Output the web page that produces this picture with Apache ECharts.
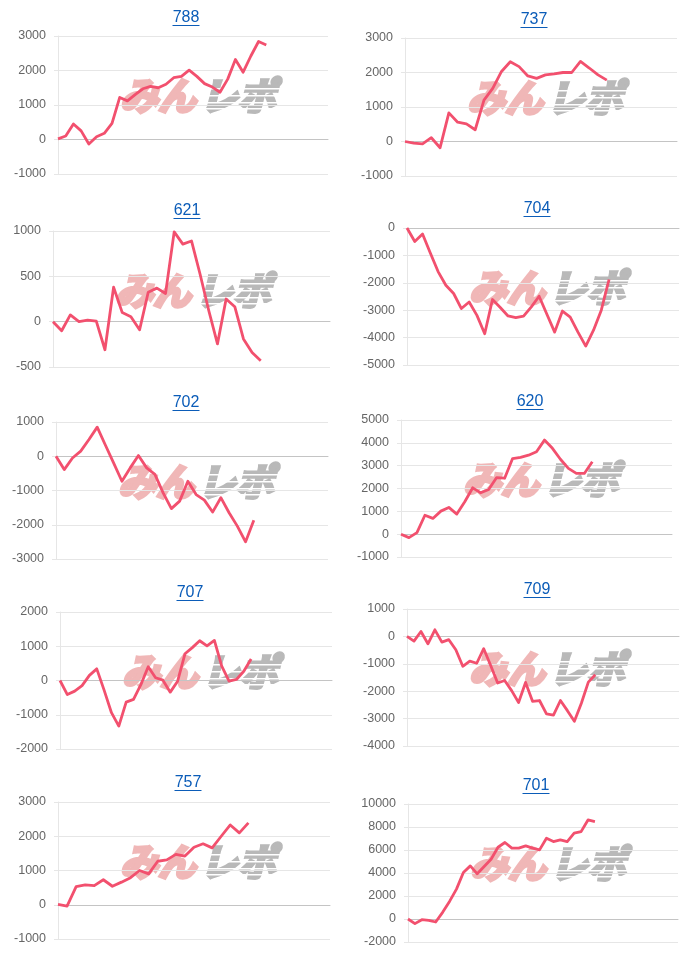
<!DOCTYPE html>
<html><head><meta charset="utf-8">
<script src="https://cdn.jsdelivr.net/npm/echarts@6/dist/echarts.min.js"></script>
<style>html,body{margin:0;padding:0;background:#fff}#c{width:700px;height:956px}</style>
</head><body><div id="c"></div>
<script>
// ---- data ----
const titles = ['788','737','621','704','702','620','707','709','757','701'];
const catCounts = [36, 32, 33, 36, 34, 35, 38, 40, 31, 40];
const d788 = [20, 100, 450, 250, -130, 80, 180, 470, 1220, 1120, 1300, 1470, 1540, 1500, 1600, 1790, 1830, 2010, 1830, 1620, 1520, 1370, 1750, 2320, 1950, 2420, 2840, 2740];
const d737 = [0, -50, -70, 110, -180, 830, 560, 510, 340, 1200, 1540, 2030, 2310, 2170, 1900, 1830, 1930, 1960, 2000, 2000, 2320, 2130, 1930, 1780];
const d621 = [0, -100, 75, 0, 18, 5, -310, 380, 100, 55, -90, 325, 370, 310, 990, 855, 890, 520, 120, -245, 250, 165, -190, -340, -430];
const d704 = [0, -490, -220, -910, -1590, -2090, -2390, -2940, -2700, -3190, -3860, -2610, -2900, -3210, -3270, -3220, -2880, -2490, -3150, -3800, -3030, -3250, -3800, -4310, -3730, -3000, -1880];
const d702 = [0, -390, -50, 150, 490, 850, 320, -200, -730, -340, 20, -340, -530, -1070, -1530, -1310, -730, -1120, -1280, -1630, -1210, -1650, -2040, -2500, -1870];
const d620 = [0, -150, 70, 830, 690, 1010, 1170, 880, 1420, 2030, 1810, 1960, 2480, 2450, 3310, 3360, 3460, 3610, 4120, 3760, 3280, 2880, 2660, 2660, 3170];
const d707 = [0, -410, -310, -150, 150, 340, -280, -940, -1330, -630, -550, -120, 400, 80, 10, -340, -20, 780, 960, 1160, 1010, 1170, 420, -20, 30, 270, 630];
const d709 = [0, -170, 180, -270, 240, -210, -120, -490, -1090, -900, -980, -450, -1060, -1700, -1610, -1980, -2410, -1680, -2370, -2340, -2830, -2870, -2340, -2710, -3100, -2440, -1670, -1400];
const d757 = [10, -40, 530, 580, 560, 730, 540, 660, 790, 1000, 900, 1270, 1310, 1470, 1420, 1680, 1780, 1660, 2000, 2330, 2100, 2390];
const d701 = [0, -400, -60, -120, -260, 580, 1530, 2600, 4050, 4620, 3930, 4570, 5200, 6240, 6650, 6160, 6160, 6360, 6160, 6010, 7020, 6730, 6880, 6730, 7460, 7600, 8610, 8470];
const seriesData = [d788, d737, d621, d704, d702, d620, d707, d709, d757, d701];
const yMin  = [-1000, -1000, -500, -5000, -3000, -1000, -2000, -4000, -1000, -2000];
const yMax  = [3000, 3000, 1000, 0, 1000, 5000, 2000, 1000, 3000, 10000];
const yStep = [1000, 1000, 500, 1000, 1000, 1000, 1000, 1000, 1000, 2000];

// ---- layout (pixels) ----
const plotL = [58, 405, 53, 407, 56, 401, 60, 407, 58, 408];
const plotR = [328, 677, 330, 679, 328, 672, 332, 679, 330, 678];
const plotT = [36, 38, 231, 228, 422, 420, 612, 609, 802, 804];
const plotB = [174, 176, 367, 365, 559, 557, 749, 746, 939, 942];
const titleX = [186, 534, 187, 537, 186, 530, 190, 537, 188, 536];
const titleY = [18, 20, 211, 209, 403, 402, 593, 590, 783, 786];

const LINE = '#f2506e';
const BLUE = '#0b5cb8';
const GRID = '#e6e6e6';
const FONT = '"Liberation Sans", Arial, Helvetica, sans-serif';
const WMFONT = 'italic bold 38px "Noto Sans CJK JP"';

const grids = [], xAxes = [], yAxes = [], series = [], graphics = [];
titles.forEach((t, i) => {
  grids.push({left: plotL[i], top: plotT[i], width: plotR[i] - plotL[i], height: plotB[i] - plotT[i], containLabel: false});
  const cats = Array.from({length: catCounts[i]}, (_, k) => String(k + 1));
  xAxes.push({
    type: 'category', gridIndex: i, data: cats, boundaryGap: false,
    axisLabel: {show: false}, axisTick: {show: false}, splitLine: {show: false},
    axisLine: {show: true, onZero: true, lineStyle: {color: '#c4c4c4', width: 1}}
  });
  yAxes.push({
    type: 'value', gridIndex: i, min: yMin[i], max: yMax[i], interval: yStep[i],
    axisLine: {show: true, lineStyle: {color: GRID}},
    axisTick: {show: true, length: 4, lineStyle: {color: GRID}},
    axisLabel: {color: '#666', fontSize: 12.5, margin: 12, fontFamily: FONT, formatter: v => String(v)},
    splitLine: {show: true, lineStyle: {color: GRID, width: 1}}
  });
  series.push({
    type: 'line', xAxisIndex: i, yAxisIndex: i, data: seriesData[i],
    showSymbol: false, symbol: 'none', smooth: false, z: 5,
    lineStyle: {color: LINE, width: 2.8, join: 'round'}
  });
  graphics.push({
    type: 'text', x: titleX[i], y: titleY[i], z: 10,
    style: {text: t, fill: BLUE, font: '16px ' + FONT, textAlign: 'center', textVerticalAlign: 'middle'}
  });
  graphics.push({
    type: 'line', z: 10,
    shape: {x1: titleX[i] - 13.5, y1: titleY[i] + 7.5, x2: titleX[i] + 13.5, y2: titleY[i] + 7.5},
    style: {stroke: BLUE, lineWidth: 1}
  });
  // watermark
  const cx = plotL[i] + 146, cy = plotT[i] + 60;
  const wm = {type: 'group', x: cx, y: cy, z: 1, silent: true, children: [
    {type: 'text', x: -84, y: 0, style: {text: 'みん', fill: '#f0b7b7', stroke: '#f0b7b7', lineWidth: 3.5, font: WMFONT, textAlign: 'left', textVerticalAlign: 'middle'}},
    {type: 'text', x: -4, y: 0, style: {text: 'レポ', fill: '#b9b9b9', stroke: '#b9b9b9', lineWidth: 3.5, font: WMFONT, textAlign: 'left', textVerticalAlign: 'middle'}}
  ]};
  [-8, -1, 6, 12].forEach(dy => wm.children.push({type: 'rect', shape: {x: -6, y: dy, width: 92, height: 1.5}, style: {fill: '#ffffff'}}));
  graphics.push(wm);
});

const chart = echarts.init(document.getElementById('c'), null, {renderer: 'canvas'});
chart.setOption({
  animation: false,
  backgroundColor: '#fff',
  grid: grids, xAxis: xAxes, yAxis: yAxes, series: series,
  graphic: graphics
});
</script></body></html>
